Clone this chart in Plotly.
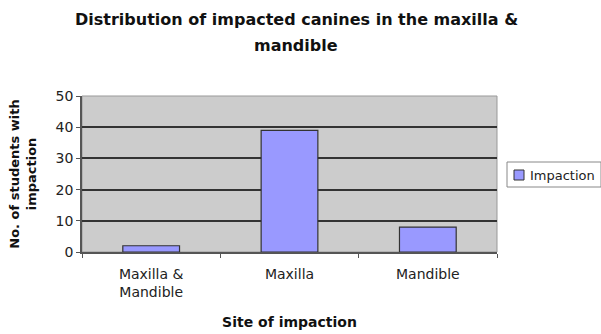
import plotly.graph_objects as go

categories = ["Maxilla &<br>Mandible", "Maxilla", "Mandible"]
values = [2, 39, 8]
series_name = "Impaction"
title_lines = ["Distribution of impacted canines in the maxilla &", "mandible"]
x_title = "Site of impaction"
y_title = "No. of students with<br>impaction"
y_ticks = [0, 10, 20, 30, 40, 50]

W, H = 601, 334
L, R, T, B = 82, 104, 96, 82
pw, ph = W - L - R, H - T - B

def px_x(x):
    return (x - L) / pw

def px_y(y):
    return (H - B - y) / ph

FONT = "DejaVu Sans, Verdana, sans-serif"
BAR_COLOR = "#9999ff"

fig = go.Figure()
fig.add_trace(go.Bar(
    x=categories, y=values, name=series_name,
    marker=dict(color=BAR_COLOR, line=dict(color="#333333", width=1.2)),
    showlegend=False,
))

fig.update_layout(
    width=W, height=H,
    margin=dict(l=L, r=R, t=T, b=B),
    paper_bgcolor="white",
    plot_bgcolor="#cccccc",
    font=dict(family=FONT, color="#222222", size=14),
    bargap=0.59,
    showlegend=False,
)

# title (two lines, Excel-like spacing)
for line, yc in zip(title_lines, [19, 45]):
    fig.add_annotation(
        text="<b>" + line + "</b>", xref="paper", yref="paper",
        x=px_x(296), y=px_y(yc), xanchor="center", yanchor="middle",
        showarrow=False,
        font=dict(family=FONT, size=16, color="#111111"),
    )

fig.update_xaxes(
    title=dict(text="<b>" + x_title + "</b>", font=dict(family=FONT, size=14, color="#111111"), standoff=18),
    showline=True, linecolor="#555555", linewidth=1.5,
    ticks="outside", tickson="boundaries", ticklen=4, tickcolor="#555555",
    showgrid=False, mirror=False, ticklabelstandoff=8, automargin=False,
    tickfont=dict(family=FONT, size=14, color="#222222"),
)
fig.update_yaxes(
    title=dict(text="<b>" + y_title + "</b>", font=dict(family=FONT, size=13, color="#111111"), standoff=16),
    range=[0, 50], tickvals=y_ticks, automargin=False,
    showline=True, linecolor="#555555", linewidth=1.5,
    ticks="outside", ticklen=4, tickcolor="#555555",
    showgrid=True, gridcolor="#333333", gridwidth=2,
    zeroline=False,
    tickfont=dict(family=FONT, size=14, color="#222222"),
)

# plot-area frame (top/right) in light gray
fig.add_shape(type="rect", xref="paper", yref="paper", x0=0, y0=0, x1=1, y1=1,
              line=dict(color="#999999", width=1), layer="below")

# legend box drawn to match the reference geometry
fig.add_shape(type="rect", xref="paper", yref="paper",
              x0=px_x(507), x1=px_x(601), y0=px_y(187), y1=px_y(162),
              line=dict(color="#888888", width=1), fillcolor="white")
fig.add_shape(type="rect", xref="paper", yref="paper",
              x0=px_x(514), x1=px_x(524), y0=px_y(180), y1=px_y(170),
              line=dict(color="#333333", width=1), fillcolor=BAR_COLOR)
fig.add_annotation(
    text=series_name, xref="paper", yref="paper",
    x=px_x(528), y=px_y(175), xanchor="left", yanchor="middle",
    showarrow=False, font=dict(family=FONT, size=13, color="#222222"),
)

fig.write_html("out.html")
